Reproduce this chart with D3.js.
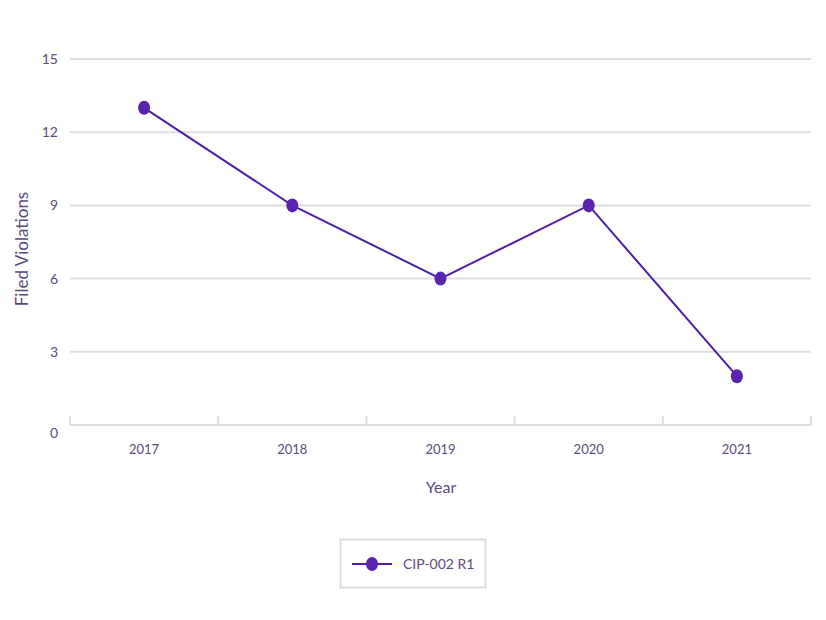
<!DOCTYPE html>
<html><head><meta charset="utf-8">
<script src="https://cdn.jsdelivr.net/npm/d3@7"></script>
<style>body{margin:0;background:#fff}text{font-family:Lato,"Open Sans",sans-serif}</style>
</head><body><svg id="c" width="826" height="620"></svg>
<script>
const years = ["2017","2018","2019","2020","2021"];
const values = [13, 9, 6, 9, 2];
const yTicks = [0, 3, 6, 9, 12, 15];
const seriesName = "CIP-002 R1";

const svg = d3.select("#c");
const m = {l:70, r:811, t:59, b:425};
const x = d3.scaleBand().domain(years).range([m.l, m.r]);
const y = d3.scaleLinear().domain([0, 15]).range([m.b, m.t]);
const txt = "#5b4a7a", lineC = "#4c1fa6", dotC = "#5a24b0", grid = "#dfdde3";

svg.append("g").selectAll("line").data(yTicks.filter(d => d > 0)).join("line")
  .attr("x1", m.l).attr("x2", m.r).attr("y1", d => y(d)).attr("y2", d => y(d))
  .attr("stroke", grid).attr("stroke-width", 2);

svg.append("g").selectAll("text").data(yTicks).join("text")
  .attr("x", 58).attr("y", d => y(d) + (d === 0 ? 8 : 0)).attr("dy", "0.35em")
  .attr("text-anchor", "end").attr("fill", txt).attr("font-size", 14).text(d => d);

const xa = svg.append("g");
xa.append("line").attr("x1", m.l).attr("x2", m.r).attr("y1", m.b).attr("y2", m.b)
  .attr("stroke", grid).attr("stroke-width", 2);
const edges = years.map(d => x(d)).concat([x(years[years.length-1]) + x.bandwidth()]);
xa.selectAll(".tk").data(edges).join("line").attr("class","tk")
  .attr("x1", d => d).attr("x2", d => d).attr("y1", m.b).attr("y2", m.b - 9)
  .attr("stroke", grid).attr("stroke-width", 2);
xa.selectAll("text").data(years).join("text")
  .attr("x", d => x(d) + x.bandwidth()/2).attr("y", 449).attr("dy","0.35em")
  .attr("text-anchor","middle").attr("fill", txt).attr("font-size", 13).text(d => d);

svg.append("text").attr("x", 441).attr("y", 487).attr("dy","0.35em").attr("text-anchor","middle")
  .attr("fill", txt).attr("font-size", 16).text("Year");
svg.append("text").attr("transform","translate(22,249) rotate(-90)").attr("dy","0.35em")
  .attr("text-anchor","middle").attr("fill", txt).attr("font-size", 17).text("Filed Violations");

const cx = d => x(d) + x.bandwidth()/2;
const line = d3.line().x((d,i) => cx(years[i])).y(d => y(d));
svg.append("path").datum(values).attr("d", line).attr("fill","none")
  .attr("stroke", lineC).attr("stroke-width", 2);
svg.append("g").selectAll("ellipse").data(values).join("ellipse")
  .attr("cx", (d,i) => cx(years[i])).attr("cy", d => y(d)).attr("rx", 6).attr("ry", 7)
  .attr("fill", dotC);

const lg = svg.append("g");
lg.append("rect").attr("x", 340.5).attr("y", 539.5).attr("width", 145).attr("height", 48)
  .attr("fill","#fff").attr("stroke","#dddddd").attr("stroke-width", 2);
lg.append("line").attr("x1", 352).attr("x2", 392).attr("y1", 564).attr("y2", 564)
  .attr("stroke", lineC).attr("stroke-width", 2);
lg.append("ellipse").attr("cx", 372).attr("cy", 564).attr("rx", 6).attr("ry", 7).attr("fill", dotC);
lg.append("text").attr("x", 403).attr("y", 564).attr("dy","0.35em").attr("fill", txt)
  .attr("font-size", 14).text(seriesName);
</script></body></html>
